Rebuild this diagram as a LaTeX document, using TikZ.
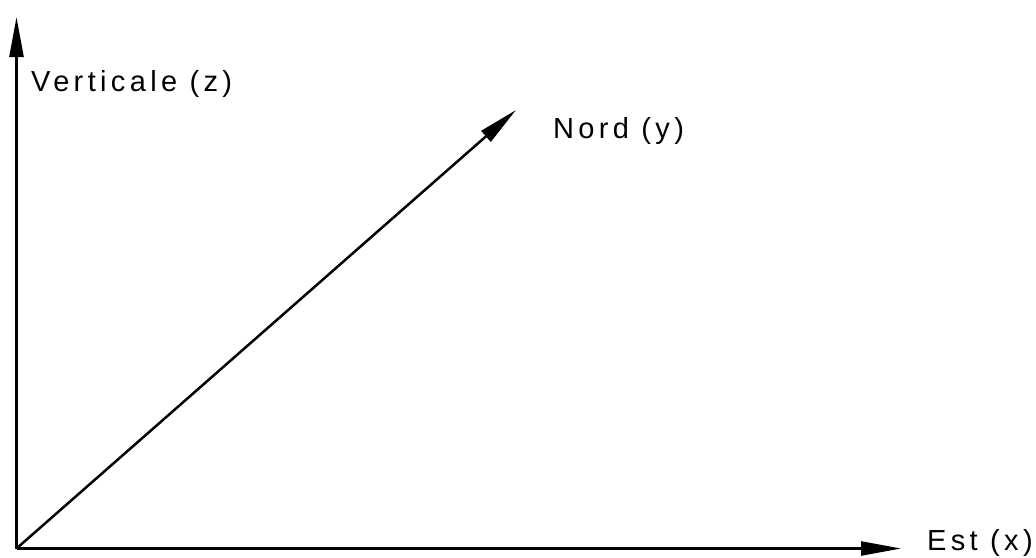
\documentclass[tikz,border=0pt]{standalone}
\usepackage{fontspec}
\newfontfamily\lab[LetterSpace=15]{Liberation Sans}
\usetikzlibrary{arrows.meta}
\tikzset{
  axis/.style={line width=2.5pt, -{Triangle[length=40pt,width=14pt]}},
  lbl/.style={anchor=base west, inner sep=0pt, font=\lab\fontsize{29}{33}\selectfont}
}
\begin{document}
\begin{tikzpicture}[x=1pt,y=-1pt]
\useasboundingbox (0,0) rectangle (1036,557);
\coordinate (O) at (16.5,548.5);
\coordinate (Z) at (16.5,17);
\coordinate (X) at (901,548.5);
\coordinate (Y) at (516,110);
\draw[axis] (O) -- (Z);
\draw[axis] (O) -- (X);
\draw[axis] (O) -- (Y);
\node[lbl] (lz) at (31,91) {Verticale (z)};
\node[lbl] (ly) at (553,138) {Nord (y)};
\node[lbl] (lx) at (927,550) {Est (x)};
\end{tikzpicture}
\end{document}
